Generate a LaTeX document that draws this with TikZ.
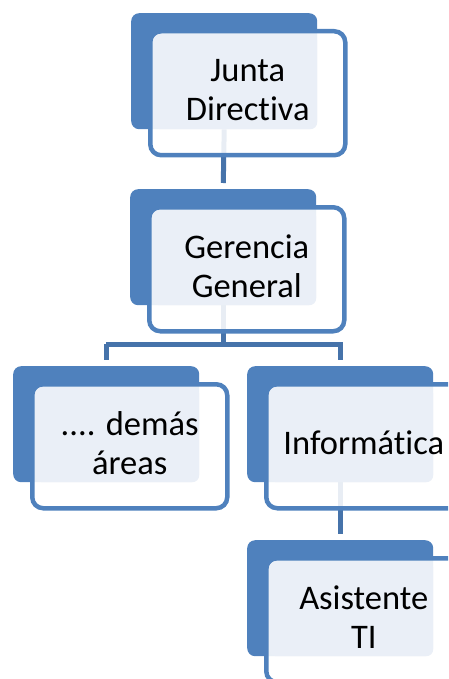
\documentclass[tikz,border=0pt]{standalone}
\usepackage{fontspec}
\setmainfont{Carlito}[Ligatures=NoCommon]
\pgfdeclarelayer{background}
\pgfsetlayers{background,main}
\definecolor{accent}{HTML}{4F81BD}
\definecolor{paneltint}{HTML}{EAEFF7}
\definecolor{linkblue}{HTML}{4673AA}
\tikzset{
  backplate/.style={fill=accent, rounded corners=8pt, minimum width=186pt, minimum height=116pt, inner sep=0pt, anchor=north west},
  frame/.style={fill=white, fill opacity=0.88, draw=accent, line width=4.5pt, rounded corners=11pt, minimum width=195pt, minimum height=124pt, inner sep=0pt, anchor=north west},
  panel/.style={fill=paneltint, rounded corners=7pt, minimum width=164pt, minimum height=95pt, inner sep=0pt, anchor=north west},
  caption/.style={font=\fontsize{34.5}{38.5}\selectfont, align=center, inner sep=0pt},
  link/.style={draw=linkblue, line width=5pt, shorten >=6pt}
}
% one org-chart unit: #1 name, (#2,#3) top-left of the back plate, #4 text
\newcommand{\orgunit}[4]{%
  \node[backplate] (#1A) at (#2,#3) {};
  \node[frame] (#1B) at (#2+17,#3+16) {};
  \node[panel] (#1C) at (#2+22,#3+21) {};
  \node[caption] (#1) at ([yshift=3pt]#1B.center) {#4};
}
\begin{document}
\begin{tikzpicture}[x=1pt,y=-1pt]
  \useasboundingbox (0,0) rectangle (448,679);
  \clip (0,0) rectangle (448,679);
  \orgunit{jd}{131}{13}{Junta\\Directiva}
  \orgunit{gg}{130}{189}{Gerencia\\General}
  \orgunit{da}{13}{366}{.... demás\\áreas}
  \orgunit{inf}{247}{366}{Informática}
  \orgunit{ti}{247}{540}{Asistente\\TI}
  \coordinate (bar) at (223,344);
  \begin{pgfonlayer}{background}
    \draw[link] (jdA.south) -- (ggA.north);
    \draw[link, shorten >=0pt] (ggA.south) -- (ggA.south |- bar);
    \draw[link] (daA.north |- bar) -- (daA.north);
    \draw[link] (daA.north |- bar) -- (infA.north |- bar) -- (infA.north);
    \draw[link] (infA.south) -- (tiA.north);
  \end{pgfonlayer}
\end{tikzpicture}
\end{document}
